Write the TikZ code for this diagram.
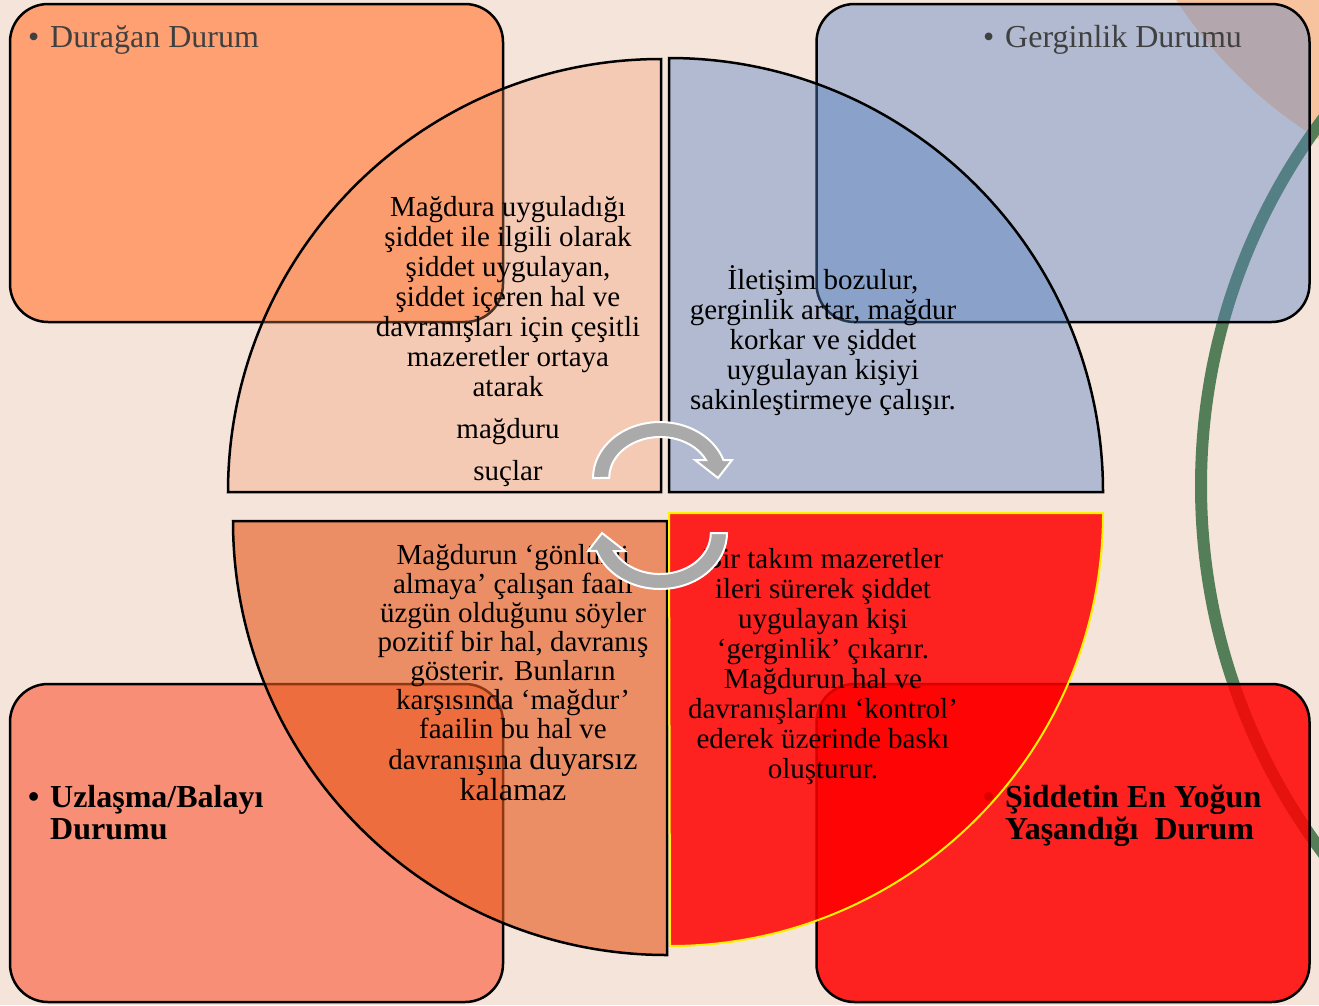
\documentclass[tikz,border=0pt]{standalone}
\usepackage{fontspec}
\setmainfont{Liberation Serif}
\definecolor{bgpeach}{RGB}{245,228,218}
\definecolor{cornerpeach}{RGB}{247,195,158}
\definecolor{ringgreen}{RGB}{84,126,88}
\definecolor{durorange}{RGB}{255,160,115}
\definecolor{gerblue}{RGB}{85,130,195}
\definecolor{uzlsalmon}{RGB}{248,142,118}
\definecolor{secorange}{RGB}{245,150,100}
\definecolor{secdark}{RGB}{232,90,30}
\definecolor{titlegray}{RGB}{64,64,64}
\definecolor{arrowgray}{RGB}{170,170,170}
\tikzset{
  statebox/.style={draw=black, line width=2.5pt, rounded corners=38pt, minimum width=493pt, minimum height=318pt, inner sep=0pt},
  quarter/.style={draw=black, line width=2.5pt},
  boxtitle/.style={anchor=base west, inner sep=0pt, align=left, font=\fontsize{32}{32}\selectfont},
  bodytext/.style={inner sep=0pt, align=center, font=\fontsize{29}{30}\selectfont},
  cyclearrow/.style={fill=arrowgray, draw=white, line width=2pt, line join=miter},
}
\begin{document}
\begin{tikzpicture}[x=1pt,y=1pt]
\useasboundingbox (0,0) rectangle (1319,-1005);
\clip (0,0) rectangle (1319,-1005);
\fill[bgpeach] (0,0) rectangle (1319,-1005);
% decoration at the right edge
\fill[cornerpeach] (1560,250) circle[radius=458pt];
\draw[ringgreen, line width=12pt] (1814,-486) circle[radius=613pt];
% the four states
\node[statebox, fill=durorange] (duragan) at (256.5,-163) {};
\node[statebox, fill=gerblue, fill opacity=0.42] (gerginlik) at (1063,-163) {};
\node[statebox, fill=uzlsalmon] (uzlasma) at (256.5,-843) {};
\node[statebox, fill=red, fill opacity=0.85] (siddet) at (1063,-843) {};
\node[boxtitle, text=titlegray] (tduragan) at (28,-47) {\makebox[22pt][l]{•}Durağan Durum};
\node[boxtitle, text=titlegray] (tgerginlik) at (983,-47) {\makebox[22pt][l]{•}Gerginlik Durumu};
% base of a two-line title is its last line
\node[boxtitle, font=\fontsize{32}{32}\selectfont\bfseries] (tuzlasma) at (28,-839)
  {\makebox[22pt][l]{•}Uzlaşma/Balayı\\\hspace*{22pt}Durumu};
\node[boxtitle, font=\fontsize{32}{32}\selectfont\bfseries] (tsiddet) at (983,-839)
  {\makebox[22pt][l]{•}Şiddetin En Yoğun\\\hspace*{22pt}Yaşandığı~ Durum};
% quarters of the cycle
\filldraw[quarter, fill=secorange, fill opacity=0.32] (661,-492) -- (228,-492) arc[start angle=180, end angle=90, radius=433pt] -- cycle;
\filldraw[quarter, fill=gerblue, fill opacity=0.42] (669,-492) -- (669,-58) arc[start angle=90, end angle=0, radius=434pt] -- cycle;
\filldraw[quarter, fill=secdark, fill opacity=0.62] (667,-521) -- (233,-521) arc[start angle=180, end angle=270, radius=434pt] -- cycle;
\filldraw[quarter, draw=yellow, line width=2pt, fill=red, fill opacity=0.85] (669,-513) -- (1103,-513) arc[start angle=0, end angle=-90, radius=433pt] -- cycle;
% texts of the quarters
\node[bodytext] (qduragan) at (508,-342) {Mağdura uyguladığı\\şiddet ile ilgili olarak\\şiddet uygulayan,\\şiddet içeren hal ve\\davranışları için çeşitli\\mazeretler ortaya\\atarak\\[12pt]mağduru\\[12pt]suçlar};
\node[bodytext] (qgerginlik) at (823,-341) {İletişim bozulur,\\gerginlik artar, mağdur\\korkar ve şiddet\\uygulayan kişiyi\\sakinleştirmeye çalışır.};
\node[bodytext, font=\fontsize{29}{29}\selectfont] (quzlasma) at (513,-673) {Mağdurun ‘gönlünü\\almaya’ çalışan faail\\üzgün olduğunu söyler\\pozitif bir hal, davranış\\gösterir. Bunların\\karşısında ‘mağdur’\\faailin bu hal ve\\[2pt]davranışına {\fontsize{32}{32}\selectfont duyarsız}\\[1pt]{\fontsize{32}{32}\selectfont kalamaz}};
\node[bodytext] (qsiddet) at (823,-667) {Bir takım mazeretler\\ileri sürerek şiddet\\uygulayan kişi\\‘gerginlik’ çıkarır.\\Mağdurun hal ve\\davranışlarını ‘kontrol’\\ederek üzerinde baskı\\oluşturur.};
% cycle arrows
\foreach \rot in {0,180}{
  \filldraw[cyclearrow, rotate around={\rot:(660,-505.5)}] (593,-478)
    arc[start angle=180, end angle=18.7, x radius=67pt, y radius=56pt]
    -- (732,-460) -- (718,-478) -- (695,-460) -- (706,-460)
    arc[start angle=26, end angle=180, x radius=51pt, y radius=41pt] -- cycle;
}
\end{tikzpicture}
\end{document}
